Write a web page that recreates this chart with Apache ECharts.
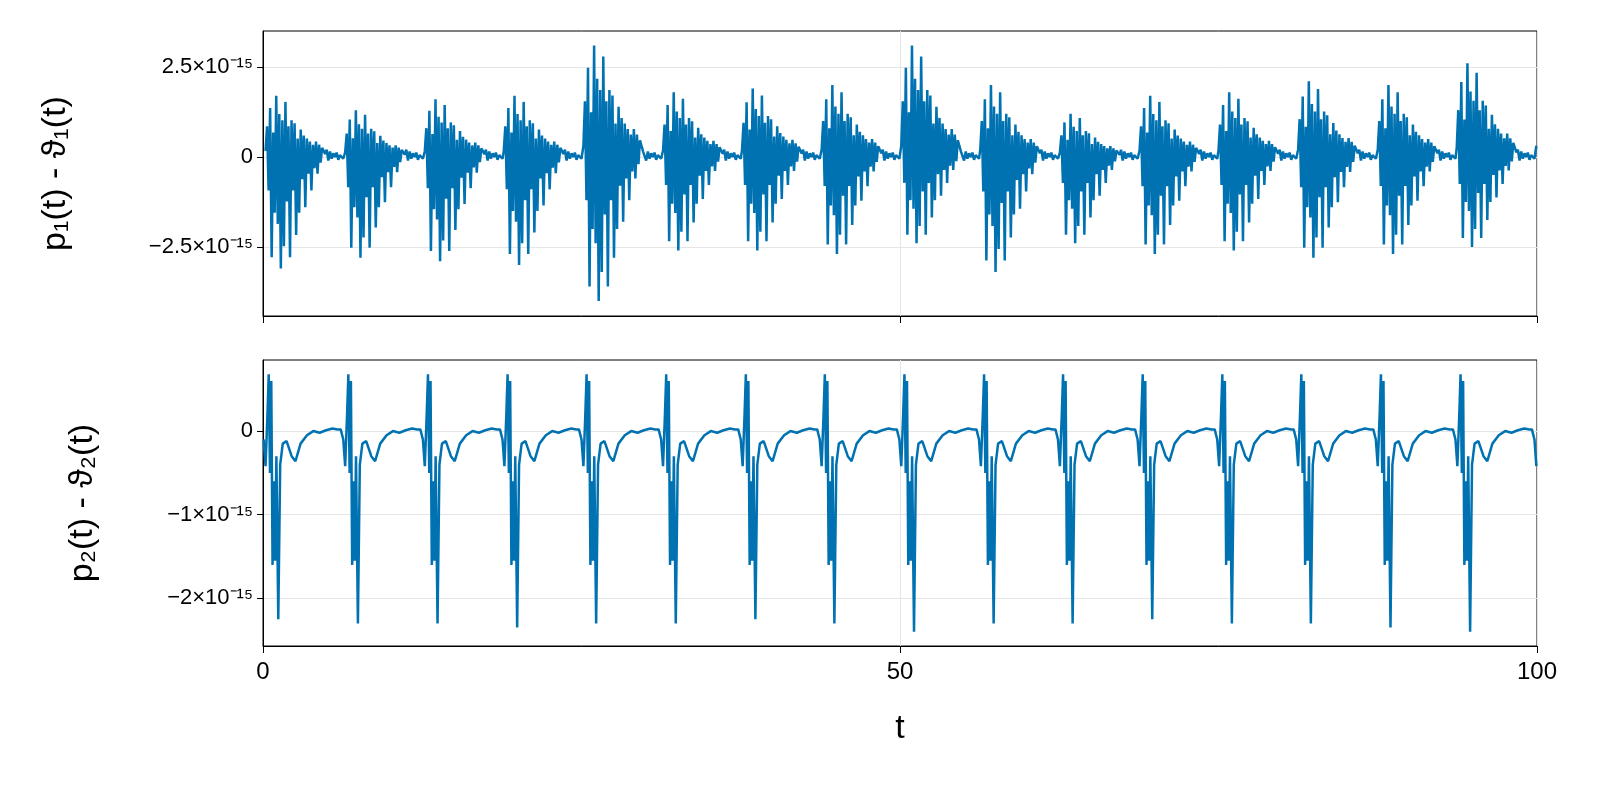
<!DOCTYPE html>
<html><head><meta charset="utf-8">
<script src="https://cdn.jsdelivr.net/npm/echarts@6/dist/echarts.min.js"></script>
<style>html,body{margin:0;background:#fff}#c{width:1600px;height:800px}</style></head>
<body><div id="c"></div>
<script>
const cycleStarts = [0.2,6.45,12.7,18.9,25.15,31.4,37.6,43.85,50.1,56.3,62.55,68.8,75.0,81.25,87.5,93.7,99.95];
const topShape = [0.1,0.5,-0.3,0.8,-0.9,0.4,-0.5,1.0,-0.6,0.7,-1.0,0.6,-0.8,0.9,-0.4,0.5,-0.9,0.6,-0.3,0.55,-0.7,0.3,-0.5,0.45,-0.2,0.35,-0.45,0.3,-0.15,0.25,-0.3,0.2,-0.1,0.25,-0.15,0.2,-0.05,0.15,0.1,0.05];
const topQuiet = [0.2,-0.1,0.15,-0.05,0.1,0.0,0.12,-0.08,0.05,0.1,-0.05];
const topMax = [1.7,1.3,1.6,1.7,3.1,1.8,1.9,2.0,3.1,2.0,1.2,1.7,1.8,2.1,2.0,2.6,3.1];
const topMin = [3.1,2.8,2.9,3.0,4.0,2.6,2.6,2.7,2.4,3.2,2.4,2.7,2.6,2.8,2.7,2.5,2.9];
const botOff = [-0.6,-0.4,-0.25,-0.1,0,0.1,0.2,0.3,0.4,0.5,0.6,0.75,0.9,1.1,1.4,1.8,2.1,2.5,3.0,3.5,4.0,4.5,5.0,5.4];
const botShape = [0.02,-0.1,-0.42,0.2,0.68,-0.5,0.6,-1.6,-0.6,-1.55,-0.3,-2.25,-0.4,-0.15,-0.12,-0.3,-0.36,-0.15,-0.05,0,-0.02,0.01,0.03,0.02];
const botMin = [2.25,2.3,2.3,2.35,2.3,2.3,2.25,2.3,2.4,2.3,2.3,2.25,2.3,2.3,2.35,2.4,2.3];
const spikeT = [0.45,6.7,12.95,19.2,25.4,31.65,37.9,44.1,50.35,56.6,62.8,69.05,75.3,81.5,87.75,94.0,100.2];
const topTicks = [-2.5e-15,0,2.5e-15];
const botTicks = [-2e-15,-1e-15,0];

const topData=[],botData=[];
cycleStarts.forEach((s,k)=>{
  topShape.forEach((v,j)=>{const t=s+j*0.12;if(t<=100)topData.push([t,(v>0?v*topMax[k]:v*topMin[k])*1e-15]);});
  topQuiet.forEach((v,j)=>{const t=s+4.8+j*0.13;if(t<=100&&t<(cycleStarts[k+1]||101))topData.push([t,v*1e-15]);});
});
topData.sort((a,b)=>a[0]-b[0]);
spikeT.forEach((s,k)=>{botOff.forEach((o,j)=>{const t=s+o;if(t>=0&&t<=100){let v=botShape[j];if(j===11)v=-botMin[k];botData.push([t,v*1e-15]);}});});
botData.sort((a,b)=>a[0]-b[0]);

function fmt(v){if(Math.abs(v)<1e-20)return '0';const m=+(v/1e-15).toFixed(2);return (m<0?'−':'')+Math.abs(m)+'×10⁻¹⁵';}
const lab={color:'#000',fontSize:22,fontFamily:'Liberation Sans'};
const nameStyle={fontSize:34,color:'#000',fontFamily:'Liberation Sans'};
const line={show:true,onZero:false,lineStyle:{color:'#000',width:1}};
function yAx(i,min,max,ticks,name,gap){return {gridIndex:i,type:'value',min:min,max:max,axisLine:line,
 axisTick:{show:true,length:6,lineStyle:{color:'#000'},customValues:ticks},
 axisLabel:{...lab,formatter:fmt,customValues:ticks,margin:10},splitLine:{show:true,lineStyle:{color:'#e5e5e5'}},
 name:name,nameLocation:'middle',nameGap:gap,nameTextStyle:nameStyle};}
function xAx(i,show){return {gridIndex:i,type:'value',min:0,max:100,interval:50,axisLine:line,
 axisTick:{show:true,length:7,lineStyle:{color:'#000'}},splitLine:{show:true,lineStyle:{color:'#e5e5e5'}},
 axisLabel:show?{...lab,fontSize:24,margin:14}:{show:false},
 name:show?'t':'',nameLocation:'middle',nameGap:66,nameTextStyle:nameStyle};}
const chart=echarts.init(document.getElementById('c'));
chart.setOption({animation:false,
grid:[{left:263,width:1274,top:31,height:285,show:true,borderColor:'#000',borderWidth:1},{left:263,width:1274,top:360,height:286,show:true,borderColor:'#000',borderWidth:1}],
xAxis:[xAx(0,false),xAx(1,true)],
yAxis:[yAx(0,-4.42e-15,3.5e-15,topTicks,'p₁(t) - ϑ₁(t)',190),yAx(1,-2.57e-15,0.85e-15,botTicks,'p₂(t) - ϑ₂(t)',163)],
series:[{type:'line',xAxisIndex:0,yAxisIndex:0,data:topData,showSymbol:false,lineStyle:{color:'#0072b2',width:2.5}},
{type:'line',xAxisIndex:1,yAxisIndex:1,data:botData,showSymbol:false,lineStyle:{color:'#0072b2',width:2.5}}]});
</script></body></html>
